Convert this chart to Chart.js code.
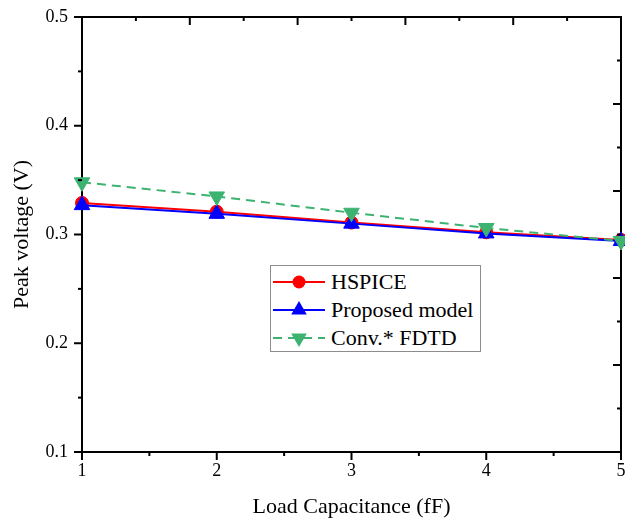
<!DOCTYPE html>
<html>
<head>
<meta charset="utf-8">
<script src="https://cdn.jsdelivr.net/npm/chart.js@4.4.1/dist/chart.umd.min.js"></script>
<style>
  body { margin: 0; background: #fff; }
  #wrap { position: relative; width: 625px; height: 520px; }
  #legend {
    position: absolute; left: 270px; top: 265px; width: 209px; height: 85px;
    border: 1px solid #8c8c8c; background: #fff;
    font-family: 'Liberation Serif', 'Times New Roman', serif; font-size: 22px; color: #000;
  }
  .row { position: absolute; left: 0; height: 28px; display: flex; align-items: center; }
  .row svg { margin-left: 2px; margin-right: 6px; }
</style>
</head>
<body>
<div id="wrap">
  <canvas id="chart" width="625" height="520"></canvas>
  <div id="legend"></div>
</div>
<script>
// Data
const loadCap = [1, 2, 3, 4, 5];
const hspice = [0.329, 0.321, 0.311, 0.302, 0.295];
const proposed = [0.327, 0.319, 0.310, 0.301, 0.294];
const convFdtd = [0.348, 0.335, 0.320, 0.306, 0.294];

// Ticks
const xMajorTicks = [1, 2, 3, 4, 5];
const xMinorTicks = [1.5, 2.5, 3.5, 4.5];
const yMajorTicks = [0.1, 0.2, 0.3, 0.4, 0.5];
const yMinorTicks = [0.15, 0.25, 0.35, 0.45];
const topMajorTicks = [1, 1.8, 2.6, 3.4, 4.2, 5];
const topMinorTicks = [1.4, 2.2, 3.0, 3.8, 4.6];
const rightMajorTicks = [0.1, 0.18, 0.26, 0.34, 0.42, 0.5];
const rightMinorTicks = [0.14, 0.22, 0.30, 0.38, 0.46];

const FONT = "'Liberation Serif', 'Times New Roman', serif";

const seriesList = [
    { label: 'HSPICE', data: hspice, color: '#ff0000', style: 'circle', radius: 6.5, rotation: 0, dash: [] },
    { label: 'Proposed model', data: proposed, color: '#0000ff', style: 'triangle', radius: 9, rotation: 0, dash: [] },
    { label: 'Conv.* FDTD', data: convFdtd, color: '#3cb371', style: 'triangle', radius: 9, rotation: 180, dash: [9, 6] }
];

// draws the small tick marks (outward on bottom/left, inward on top/right)
const tickMarks = {
    id: 'tickMarks',
    afterDraw(chart) {
        const ctx = chart.ctx;
        const area = chart.chartArea;
        ctx.save();
        ctx.strokeStyle = '#000';
        ctx.lineWidth = 2;

        const vertical = (scale, values, y, len) => {
            values.forEach(v => {
                const px = scale.getPixelForValue(v);
                ctx.beginPath();
                ctx.moveTo(px, y);
                ctx.lineTo(px, y + len);
                ctx.stroke();
            });
        };
        const horizontal = (scale, values, x, len) => {
            values.forEach(v => {
                const py = scale.getPixelForValue(v);
                ctx.beginPath();
                ctx.moveTo(x, py);
                ctx.lineTo(x + len, py);
                ctx.stroke();
            });
        };

        const xs = chart.scales.x;
        const ys = chart.scales.y;
        vertical(xs, xMajorTicks, area.bottom, 8);
        vertical(xs, xMinorTicks, area.bottom, 4);
        horizontal(ys, yMajorTicks, area.left, -8);
        horizontal(ys, yMinorTicks, area.left, -4);
        vertical(xs, topMajorTicks, area.top, 8);
        vertical(xs, topMinorTicks, area.top, 4);
        horizontal(ys, rightMajorTicks, area.right, -8);
        horizontal(ys, rightMinorTicks, area.right, -4);
        ctx.restore();
    }
};

const ctx = document.getElementById('chart').getContext('2d');
new Chart(ctx, {
    type: 'line',
    data: {
        datasets: seriesList.map((s, i) => ({
            label: s.label,
            data: loadCap.map((x, j) => ({ x: x, y: s.data[j] })),
            borderColor: s.color,
            backgroundColor: s.color,
            borderWidth: 2,
            borderDash: s.dash,
            pointStyle: s.style,
            pointRadius: s.radius,
            pointRotation: s.rotation,
            pointBorderWidth: 1,
            pointBackgroundColor: s.color,
            pointBorderColor: s.color,
            tension: 0,
            clip: false,
            order: seriesList.length - i
        }))
    },
    options: {
        responsive: false,
        animation: false,
        devicePixelRatio: 1,
        layout: { padding: 0, autoPadding: false },
        plugins: {
            legend: { display: false },
            tooltip: { enabled: false }
        },
        scales: {
            x: {
                type: 'linear',
                position: 'bottom',
                min: 1,
                max: 5,
                afterBuildTicks: s => { s.ticks = xMajorTicks.map(v => ({ value: v })); },
                afterFit: s => { s.height = 68; s.paddingLeft = 0; s.paddingRight = 0; },
                grid: { display: false, drawTicks: false },
                border: { display: true, color: '#000', width: 2 },
                ticks: {
                    color: '#000',
                    font: { family: FONT, size: 18 },
                    padding: 8,
                    maxRotation: 0,
                    callback: v => String(v)
                },
                title: {
                    display: true,
                    text: 'Load Capacitance (fF)',
                    color: '#000',
                    font: { family: FONT, size: 22 },
                    padding: { top: 0, bottom: 0 }
                }
            },
            y: {
                type: 'linear',
                position: 'left',
                min: 0.1,
                max: 0.5,
                afterBuildTicks: s => { s.ticks = yMajorTicks.map(v => ({ value: v })); },
                afterFit: s => { s.width = 82; s.paddingTop = 0; s.paddingBottom = 0; },
                grid: { display: false, drawTicks: false },
                border: { display: true, color: '#000', width: 2 },
                ticks: {
                    color: '#000',
                    font: { family: FONT, size: 18 },
                    padding: 14,
                    callback: v => v.toFixed(1)
                },
                title: {
                    display: true,
                    text: 'Peak voltage (V)',
                    color: '#000',
                    font: { family: FONT, size: 22 },
                    padding: { top: 9, bottom: 0 }
                }
            },
            x2: {
                type: 'linear',
                position: 'top',
                min: 1,
                max: 5,
                afterFit: s => { s.height = 17; s.paddingLeft = 0; s.paddingRight = 0; },
                grid: { display: false, drawTicks: false },
                border: { display: true, color: '#000', width: 2 },
                ticks: { display: false }
            },
            y2: {
                type: 'linear',
                position: 'right',
                min: 0.1,
                max: 0.5,
                afterFit: s => { s.width = 4; s.paddingTop = 0; s.paddingBottom = 0; },
                grid: { display: false, drawTicks: false },
                border: { display: true, color: '#000', width: 2 },
                ticks: { display: false }
            }
        }
    },
    plugins: [tickMarks]
});

// legend box drawn as HTML
function markerSvg(s) {
    const cx = 26, cy = 14;
    let marker;
    if (s.style === 'circle') {
        marker = `<circle cx="${cx}" cy="${cy}" r="${s.radius}" fill="${s.color}"/>`;
    } else {
        const r = s.radius;
        const pts = [0, 120, 240].map(a => {
            const rad = (a + s.rotation) * Math.PI / 180;
            return `${(cx + Math.sin(rad) * r).toFixed(1)},${(cy - Math.cos(rad) * r).toFixed(1)}`;
        }).join(' ');
        marker = `<polygon points="${pts}" fill="${s.color}"/>`;
    }
    const dash = s.dash.length ? `stroke-dasharray="${s.dash.join(' ')}"` : '';
    return `<svg width="52" height="28"><line x1="0" y1="${cy}" x2="52" y2="${cy}" stroke="${s.color}" stroke-width="2" ${dash}/>${marker}</svg>`;
}

const legend = document.getElementById('legend');
legend.innerHTML = seriesList.map((s, i) =>
    `<div class="row" style="top:${2 + i * 28}px">${markerSvg(s)}<span>${s.label}</span></div>`
).join('');
</script>
</body>
</html>
